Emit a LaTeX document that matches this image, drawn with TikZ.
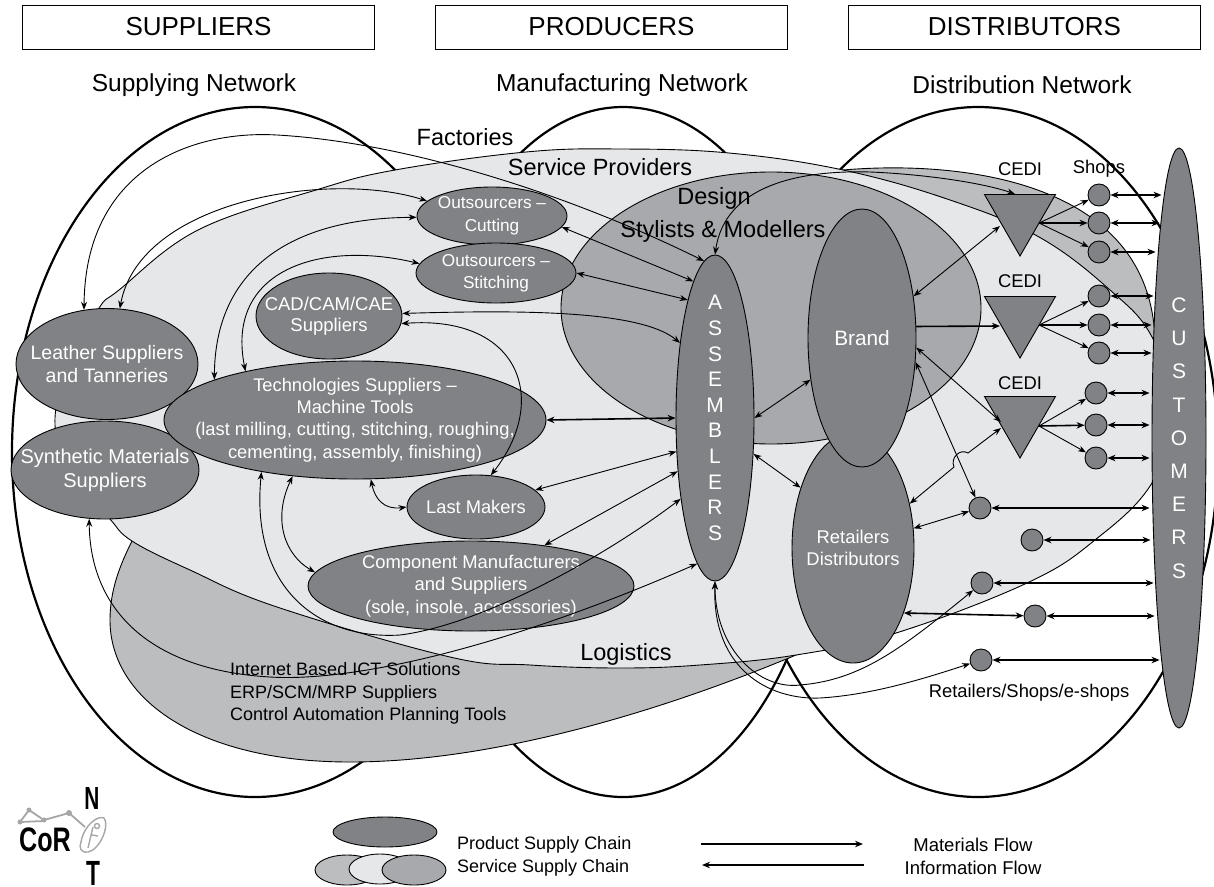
\documentclass[tikz,border=0pt]{standalone}
\usepackage{fontspec}
\setmainfont{Liberation Sans}
\usetikzlibrary{shapes.geometric,arrows.meta}
\definecolor{pg}{HTML}{808285}
\definecolor{lightg}{HTML}{E6E7E9}
\definecolor{logig}{HTML}{BBBDBF}
\definecolor{desg}{HTML}{A7A9AC}
\newcommand{\fs}[2]{\fontsize{#1}{#2}\selectfont}
\tikzset{
  big/.style={ellipse,draw=black,line width=2.2pt,inner sep=0pt},
  blob/.style={draw=black,line width=.9pt},
  ell/.style={ellipse,draw=black,fill=pg,line width=.9pt,inner sep=0pt},
  ntxt/.style={text=white,align=center,inner sep=0pt},
  tri/.style={regular polygon,regular polygon sides=3,shape border rotate=180,draw=black,fill=pg,line width=.9pt,minimum size=82pt,inner sep=0pt},
  shopc/.style={circle,draw=black,fill=pg,line width=.9pt,minimum size=22pt,inner sep=0pt},
  hdr/.style={draw=black,line width=.9pt,minimum width=352pt,minimum height=44pt,inner sep=0pt},
  txt/.style={text=black,inner sep=0pt,align=left},
  dbl/.style={{Stealth[length=8pt,width=6pt]}-{Stealth[length=8pt,width=6pt]},line width=.9pt},
  dblt/.style={{Stealth[length=8pt,width=6.5pt]}-{Stealth[length=8pt,width=6.5pt]},line width=1.6pt},
  sgl/.style={-{Stealth[length=8pt,width=6pt]},line width=.9pt},
  sglt/.style={-{Stealth[length=8pt,width=6.5pt]},line width=1.6pt},
}
\begin{document}
\begin{tikzpicture}[x=1pt,y=-1pt]
\useasboundingbox (0,0) rectangle (1214,886);
% header boxes
\node[hdr,font=\fs{26}{30}] (hs) at (198.5,27) {SUPPLIERS};
\node[hdr,font=\fs{26}{30}] (hp) at (611.5,27) {PRODUCERS};
\node[hdr,font=\fs{26}{30}] (hd) at (1024.5,27) {DISTRIBUTORS};
\node[txt,font=\fs{24.5}{28}] (ns) at (194,85) {Supplying Network};
\node[txt,font=\fs{24.5}{28}] (nm) at (622,85) {Manufacturing Network};
\node[txt,font=\fs{24.5}{28}] (nd) at (1022,85) {Distribution Network};
% big network ellipses
\node[big,minimum width=486pt,minimum height=690pt] (bigl) at (255,452) {};
\node[big,minimum width=410pt,minimum height=690pt] (bigm) at (623,452) {};
\node[big,minimum width=480pt,minimum height=690pt] (bigr) at (978,452) {};
% logistics
\path[blob,fill=logig] (796,655) .. controls (640,720) and (480,762) .. (350,762) .. controls (200,762) and (110,700) .. (110,620) .. controls (110,590) and (120,565) .. (132,541) -- (400,500) -- cycle;
% upper right service blob
\path[blob,fill=logig] (843,170) .. controls (960,160) and (1150,180) .. (1155,340) -- (1100,340) -- (900,200) -- cycle;
% factories
\draw[blob,fill=lightg] plot[smooth cycle,tension=.65] coordinates {(55,425) (70,360) (99,308) (119,290) (198,230) (316,190) (395,170) (526,152) (620,149) (729,153) (843,170) (950,200) (1039,237) (1110,290) (1152,337) (1175,410) (1152,483) (1095,540) (1027,583) (896,633) (796,655) (700,665) (620,668) (530,665) (450,657) (277,607) (190,570) (132,541) (109,518) (75,480)};
% design
\node[ell,fill=desg,minimum width=420pt,minimum height=272pt] (design) at (771,308) {};
% labels of service networks
\node[txt,font=\fs{23.5}{26}] (lf) at (465,137) {Factories};
\node[txt,font=\fs{23.5}{26}] (lsp) at (600,167) {Service Providers};
\node[txt,font=\fs{23.5}{26}] (ld) at (714,198) {Design};
\node[txt,font=\fs{23.5}{26}] (lst) at (723,231) {Stylists \& Modellers};
\node[txt,font=\fs{23.5}{26}] (ll) at (626,654) {Logistics};
\node[txt,font=\fs{18}{22.5},anchor=west] (lict) at (230,693.5) {Internet Based ICT Solutions\\ERP/SCM/MRP Suppliers\\Control Automation Planning Tools};
% product nodes
\node[ell,minimum width=182pt,minimum height=111pt,label={[ntxt,font=\fs{19.5}{23}]center:{Leather Suppliers\\and Tanneries}}] (leather) at (107,364) {};
\node[ell,minimum width=188pt,minimum height=98pt,label={[ntxt,font=\fs{20}{24}]center:{Synthetic Materials\\Suppliers}}] (synth) at (105,470) {};
\node[ell,minimum width=382pt,minimum height=118pt,label={[ntxt,font=\fs{18.3}{22.4}]center:{Technologies Suppliers –\\Machine Tools\\(last milling, cutting, stitching, roughing,\\cementing, assembly, finishing)}}] (tech) at (355,420) {};
\node[ell,minimum width=146pt,minimum height=86pt,label={[ntxt,font=\fs{18.5}{21.5}]center:{CAD/CAM/CAE\\Suppliers}}] (cad) at (329,316) {};
\node[ell,minimum width=150pt,minimum height=58pt,label={[ntxt,font=\fs{17.2}{23}]center:{Outsourcers –\\Cutting}}] (cut) at (492,216) {};
\node[ell,minimum width=160pt,minimum height=60pt,label={[ntxt,font=\fs{17.2}{22}]center:{Outsourcers –\\Stitching}}] (stitch) at (496,273) {};
\node[ell,minimum width=138pt,minimum height=64pt,label={[ntxt,font=\fs{18.3}{22}]center:{Last Makers}}] (last) at (476,507) {};
\node[ell,minimum width=326pt,minimum height=90pt,label={[ntxt,font=\fs{18.4}{22.4}]center:{Component Manufacturers\\and Suppliers\\(sole, insole, accessories)}}] (comp) at (471,586) {};
\node[ell,minimum width=78pt,minimum height=326pt,label={[ntxt,font=\fs{21}{25.6}]center:{A\\S\\S\\E\\M\\B\\L\\E\\R\\S}}] (asm) at (715,418) {};
\node[ell,minimum width=122pt,minimum height=230pt,label={[ntxt,font=\fs{18.4}{22}]center:{Retailers\\Distributors}}] (ret) at (853,548) {};
\node[ell,minimum width=108pt,minimum height=258pt,label={[ntxt,font=\fs{20.8}{24}]center:{Brand}}] (brand) at (862,338) {};
\node[ell,minimum width=54pt,minimum height=580pt,label={[ntxt,font=\fs{21}{33.2}]center:{C\\U\\S\\T\\O\\M\\E\\R\\S}}] (cust) at (1179,438) {};
% CEDI triangles
\node[tri] (t1) at (1020,215) {};
\node[tri] (t2) at (1020,317) {};
\node[tri] (t3) at (1020,417) {};
\node[txt,font=\fs{18.4}{22}] (c1l) at (1020,169) {CEDI};
\node[txt,font=\fs{18.4}{22}] (c2l) at (1020,281) {CEDI};
\node[txt,font=\fs{18.4}{22}] (c3l) at (1020,383) {CEDI};
\node[txt,font=\fs{18.4}{22}] (shl) at (1099,169) {Shops};
\node[txt,font=\fs{18.4}{22}] (rsl) at (1029,693) {Retailers/Shops/e-shops};
\coordinate (t1r) at (1039,223);
\coordinate (t2r) at (1039,325);
\coordinate (t3r) at (1039,426);
\coordinate (t1top) at (1015,194);
\coordinate (t1l) at (1000,226);
\coordinate (t2l) at (1000,326);
\coordinate (t3la) at (1001,422);
\coordinate (t3lb) at (1001,428);
% shops
\node[shopc] (a1) at (1099,195) {};
\node[shopc] (a2) at (1099,223) {};
\node[shopc] (a3) at (1099,252) {};
\node[shopc] (b1) at (1099,296) {};
\node[shopc] (b2) at (1099,325) {};
\node[shopc] (b3) at (1099,353) {};
\node[shopc] (d1) at (1096,393) {};
\node[shopc] (d2) at (1096,425) {};
\node[shopc] (d3) at (1096,458) {};
\node[shopc] (e1) at (980,508) {};
\node[shopc] (e2) at (1032,540) {};
\node[shopc] (e3) at (982,583) {};
\node[shopc] (e4) at (1035,616) {};
\node[shopc] (e5) at (981,660) {};
% triangle to shops
\draw[sgl] (t1r) -- (a1);
\draw[sglt] (t1r) -- (a2);
\draw[sgl] (t1r) -- (a3);
\draw[sgl] (t2r) -- (b1);
\draw[sglt] (t2r) -- (b2);
\draw[sgl] (t2r) -- (b3);
\draw[sgl] (t3r) -- (d1);
\draw[sglt] (t3r) -- (d2);
\draw[sgl] (t3r) -- (d3);
% shops to customers
\foreach \c/\s in {a1/10,a2/8,a3/4,b1/2,b2/0,b3/0,d1/-2,d2/-2,d3/-2,e1/-2,e2/-1,e3/2,e4/3,e5/8}
  \draw[dblt] (\c.east) -- ([xshift=\s pt]cust.west |- \c);
% left side connectors
\draw[dbl] (leather.113) .. controls (85,170) and (190,130) .. (277,135) .. controls (400,142) and (560,190) .. (asm.94);
\draw[dbl] (leather.77) .. controls (140,200) and (330,170) .. (cut.167);
\draw[dbl] (tech.164) .. controls (215,270) and (290,218) .. (cut.181);
\draw[dbl] (tech.156) .. controls (225,270) and (320,240) .. (stitch.173);
\draw[dbl] (cad.2) .. controls (520,310) and (640,310) .. (asm.115);
\draw[dbl] (cad.-6) .. controls (520,315) and (550,400) .. (last.65);
\draw[dbl] (cut.-9) -- (asm.99.5);
\draw[dbl] (stitch.0) -- (asm.103.5);
\draw[dblt] (tech.0) -- (asm.180);
\draw[dbl] (last.16) -- (asm.221);
\draw[dbl] (comp.29) -- (asm.235);
\draw[dbl] (tech.209) .. controls (250,590) and (320,640) .. (400,635) .. controls (480,625) and (600,560) .. (asm.247);
\draw[dbl] (synth.252) .. controls (90,610) and (150,670) .. (270,677) .. controls (350,682) and (500,650) .. (asm.263.6);
\draw[dbl] (tech.222) .. controls (272,520) and (285,555) .. (comp.175);
\draw[dbl] (tech.-75) .. controls (375,500) and (385,510) .. (last.180);
% centre connectors
\draw[dbl] (asm.0) -- (brand.219);
\draw[dbl] (asm.-43) -- (ret.131.5);
\draw[dbl] (asm.90) .. controls (725,185) and (800,170) .. (870,172) .. controls (920,174) and (980,182) .. (t1top);
\draw[dbl] (brand.39) -- (t1l);
\draw[sglt] (brand.12.5) -- (t2l);
\draw[dbl] (brand.-10) -- (t3la);
\draw[dbl] (brand.-24) -- (e1);
\draw[dbl] (ret.38.7) -- (954,467) .. controls (950,458) and (960,448) .. (968,453) -- (t3lb);
\draw[dbl] (ret.18) -- (e1);
\draw[dblt] (ret.-52) -- (e4);
\draw[dbl] (asm.-90) .. controls (715,650) and (760,690) .. (800,685) .. controls (860,680) and (900,650) .. (e3);
\draw[dbl] (asm.-90) .. controls (712,670) and (770,700) .. (820,698) .. controls (870,695) and (920,680) .. (e5);
% legend
\node[ell,minimum width=104pt,minimum height=30pt] (lg1) at (385,832) {};
\node[ell,fill=logig,minimum width=64pt,minimum height=30pt] (lg2) at (347,870) {};
\node[ell,fill=lightg,minimum width=62pt,minimum height=30pt] (lg3) at (380,869) {};
\node[ell,fill=desg,minimum width=64pt,minimum height=30pt] (lg4) at (414,870) {};
\node[txt,font=\fs{18}{22},anchor=west] (lp) at (457,845) {Product Supply Chain};
\node[txt,font=\fs{18}{22},anchor=west] (lsc) at (457,868) {Service Supply Chain};
\node[txt,font=\fs{18.5}{22}] (lm) at (973,845) {Materials Flow};
\node[txt,font=\fs{18.5}{22}] (li) at (973,868) {Information Flow};
\coordinate (mfa) at (701,844);
\coordinate (mfb) at (863,844);
\coordinate (ifa) at (864,865);
\coordinate (ifb) at (702,865);
\draw[sglt] (mfa) -- (mfb);
\draw[sglt] (ifa) -- (ifb);
% logo
\node[inner sep=0pt] (lgc) at (45,840) {\fontsize{34}{36}\selectfont\scalebox{.74}[1]{\textbf{CoR}}};
\node[inner sep=0pt] (lgn) at (92,798) {\fontsize{32}{34}\selectfont\scalebox{.65}[1]{\textbf{N}}};
\node[inner sep=0pt] (lgt) at (93,873) {\fontsize{35}{37}\selectfont\scalebox{.65}[1]{\textbf{T}}};
\draw[gray!70,line width=1.8pt,line join=round] (20,822) -- (29,810) -- (44,820) -- (69,813) -- (85,827);
\draw[gray!70,line width=1.8pt,line join=round] (20,822) -- (44,821);
\fill[gray!70] (20,822) circle (2.5pt) (29,810) circle (2.5pt) (44,820) circle (2.5pt) (69,813) circle (3pt);
\draw[gray!70,line width=1.4pt] (81,842) .. controls (84,825) and (98,815) .. (104,818) .. controls (110,825) and (100,850) .. (88,852) .. controls (80,853) and (79,847) .. (81,842);
\draw[gray!70,line width=1.4pt] (93,827) -- (88,848) (97,826) circle (2.5pt) (92,835) -- (98,836);
\end{tikzpicture}
\end{document}
